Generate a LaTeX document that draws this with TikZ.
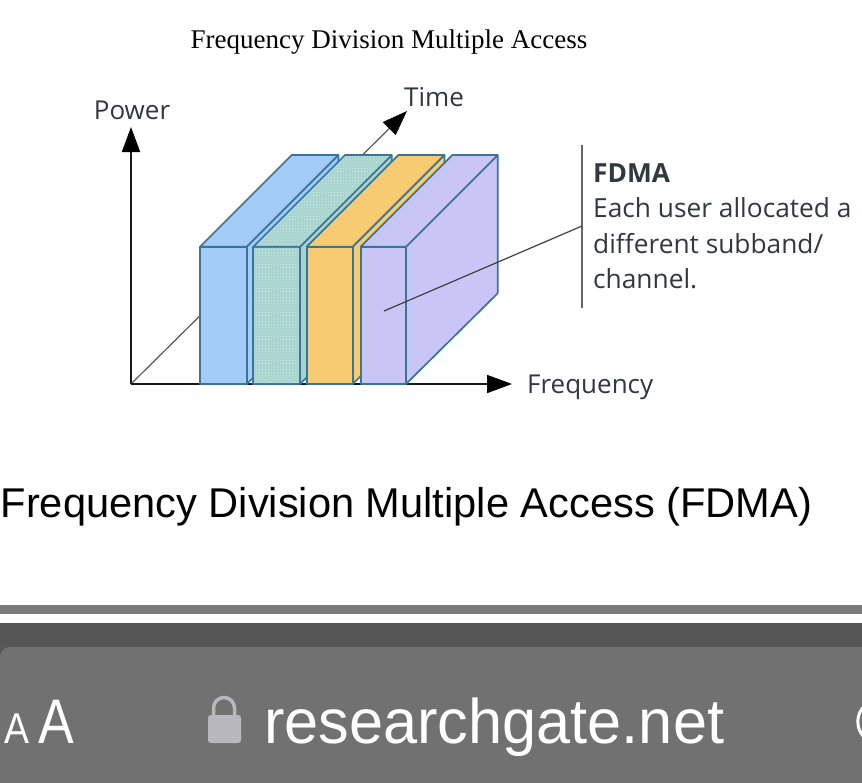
\documentclass[tikz,border=0pt]{standalone}
\usepackage{fontspec}
\setmainfont{Liberation Serif}
\newfontfamily\labelfont{Open Sans}
\newfontfamily\capfont{Liberation Sans}
\usetikzlibrary{arrows.meta,patterns}
\definecolor{bandblue}{HTML}{A3CCF8}
\definecolor{bandteal}{HTML}{A6D3CE}
\definecolor{bandorange}{HTML}{F6CB72}
\definecolor{bandlilac}{HTML}{C9C6F5}
\definecolor{bandedge}{HTML}{3A7499}
\definecolor{barband}{HTML}{7A7A7A}
\definecolor{bardark}{HTML}{565656}
\definecolor{barmain}{HTML}{717172}
\definecolor{lockgray}{HTML}{B8B8BE}
\definecolor{labelgray}{HTML}{303840}
\tikzset{
  axisline/.style={->, line width=1.8pt, black!90},
  axislabel/.style={font=\labelfont\fontsize{26}{26}\selectfont, text=labelgray, inner sep=0pt},
  notetext/.style={font=\labelfont\fontsize{26.3}{35.5}\selectfont, text=labelgray, inner sep=0pt, align=left, anchor=north west},
  bandedge/.style={draw=bandedge, line width=1.7pt, line join=round}
}
\begin{document}
\begin{tikzpicture}[x=1pt, y=-1pt, >={Triangle[length=25pt, width=18pt, color=black]}]
    \useasboundingbox (0,0) rectangle (862,782);
    \fill[white] (0,0) rectangle (862,782);
    \node[font=\fontsize{27}{27}\selectfont, inner sep=0pt] (title) at (389,42) {Frequency Division Multiple Access};
    \coordinate (origin) at (131,384);
    \node[axislabel] (power) at (132,110) {Power};
    \node[axislabel] (time) at (434,97) {Time};
    \node[axislabel, anchor=west] (freq) at (527,387) {Frequency};
    \coordinate (powertip) at (131,127);
    \coordinate (timetip) at (407,111);
    \coordinate (freqtip) at (512,384);
    \draw[axisline] (origin) -- (powertip);
    \draw[->, line width=1.2pt, black!65] (origin) -- (timetip);
    \draw[axisline] (origin) -- (freqtip);
    \foreach \xa/\xb/\col in {200/246.7/bandblue, 253.3/300/bandteal, 306.7/352.7/bandorange, 360.7/406/bandlilac} {
        \draw[bandedge, fill=\col] (\xb,246.7) -- ++(91.7,-91.7) -- ++(0,138.3) -- (\xb,384) -- cycle;
        \draw[bandedge, fill=\col] (\xa,246.7) -- ++(91.7,-91.7) -- (\xb+91.7,155) -- (\xb,246.7) -- cycle;
        \draw[bandedge, fill=\col] (\xa,246.7) rectangle (\xb,384);
    }
    \fill[pattern=crosshatch dots, pattern color=white!50!bandteal] (254.5,246) -- ++(90.5,-90.5) -- (390,155.5) -- (299,246) -- cycle;
    \fill[pattern=crosshatch dots, pattern color=white!50!bandteal] (254.2,247.6) rectangle (299.1,383.1);
    \coordinate (notetop) at (582,145);
    \coordinate (notebot) at (582,308);
    \coordinate (noteend) at (582,226);
    \coordinate (bandspot) at (384,311);
    \draw[line width=1.2pt, black!60] (notetop) -- (notebot);
    \draw[line width=1.2pt, black!75] (bandspot) -- (noteend);
    \node[notetext] (note) at (593,163) {{\bfseries FDMA}\\Each user allocated a\\different subband/\\channel.};
    \node[font=\capfont\fontsize{41.6}{41.6}\selectfont, inner sep=0pt, anchor=west] (caption) at (0.5,507) {Frequency Division Multiple Access (FDMA)};
    \fill[barband] (0,605) rectangle (862,614);
    \fill[bardark] (0,623) rectangle (862,660);
    \fill[barmain, rounded corners=10pt] (0,647) rectangle (900,800);
    \node[font=\capfont\fontsize{43}{43}\selectfont, text=white, inner sep=0pt, anchor=base west, xscale=0.87] (small) at (4,743) {A};
    \node[font=\capfont\fontsize{63}{63}\selectfont, text=white, inner sep=0pt, anchor=base west, xscale=0.85] (big) at (38,743) {A};
    \fill[lockgray, rounded corners=3pt] (208,715) rectangle (241,743);
    \draw[lockgray, line width=3.5pt] (213.5,716) -- (213.5,708) arc[start angle=180, end angle=360, radius=10.5] -- (234.5,716);
    \node[font=\capfont\fontsize{63}{63}\selectfont, text=white, inner sep=0pt, anchor=base west, xscale=0.973] (url) at (264,743) {researchgate.net};
    \draw[white, line width=3pt] (876,700) arc[start angle=260, end angle=100, radius=22];
\end{tikzpicture}
\end{document}
